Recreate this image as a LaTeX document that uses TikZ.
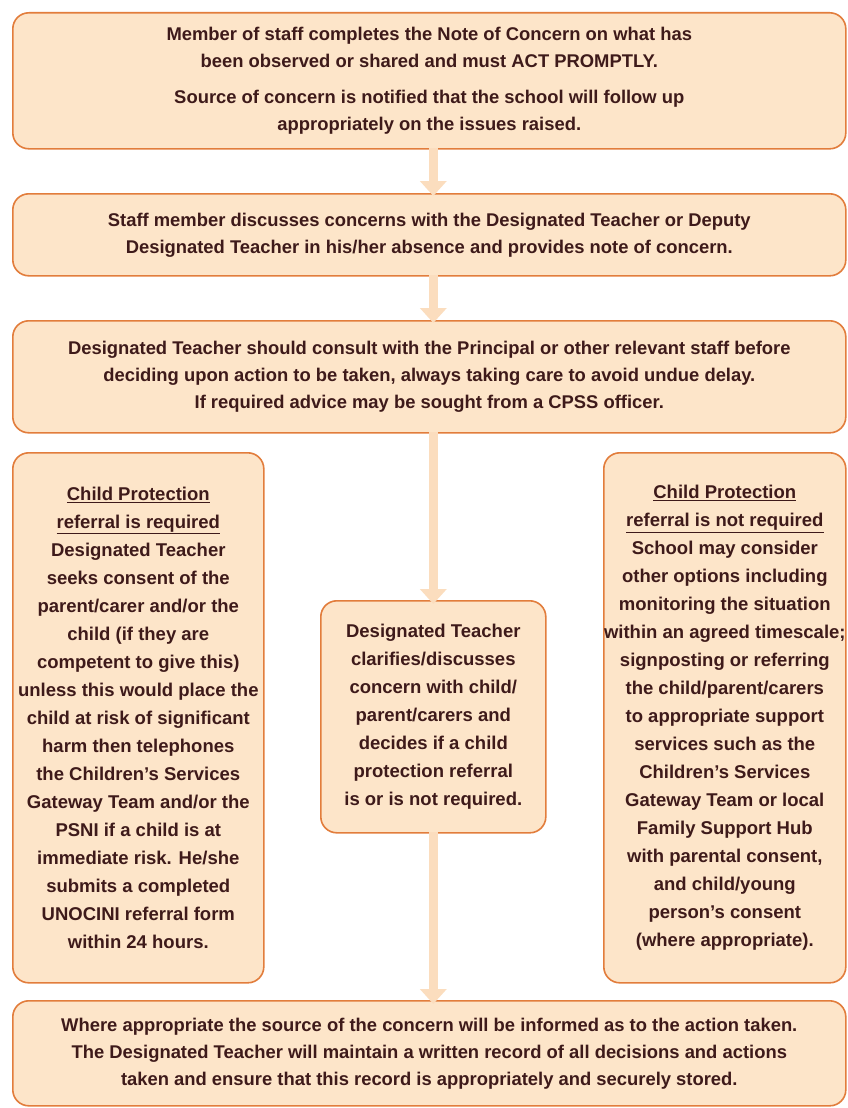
\documentclass[tikz,border=0pt]{standalone}
\usepackage{fontspec}
\setmainfont{Liberation Sans}
\usetikzlibrary{arrows.meta}
\definecolor{boxfill}{HTML}{FDE5C9}
\definecolor{boxline}{HTML}{E27D3C}
\definecolor{txt}{HTML}{3E1A1A}
\definecolor{arr}{HTML}{FBDDBE}
\tikzset{
  flowbox/.style={draw=boxline, line width=1.6pt, fill=boxfill, rounded corners=16pt,
    anchor=north west, inner sep=0pt, align=center, text=txt,
    font=\bfseries\fontsize{18.4}{27}\selectfont},
  sidefont/.style={font=\bfseries\fontsize{18.5}{28}\selectfont},
  flowarrow/.style={draw=arr, line width=9pt, -{Triangle[width=26pt,length=15pt]}},
}
\begin{document}
\begin{tikzpicture}[x=1pt,y=-1pt]
\useasboundingbox (0,0) rectangle (847,1108);
\fill[white] (0,0) rectangle (847,1108);
\node[flowbox, minimum width=833pt, minimum height=136pt] (b1) at (12,12)
 {Member of staff completes the Note of Concern on what has\\
  been observed or shared and must ACT PROMPTLY.\\[9pt]
  Source of concern is notified that the school will follow up\\
  appropriately on the issues raised.};
\node[flowbox, minimum width=833pt, minimum height=82pt] (b2) at (12,193)
 {Staff member discusses concerns with the Designated Teacher or Deputy\\
  Designated Teacher in his/her absence and provides note of concern.};
\node[flowbox, minimum width=833pt, minimum height=112pt] (b3) at (12,320)
 {Designated Teacher should consult with the Principal or other relevant staff before\\
  deciding upon action to be taken, always taking care to avoid undue delay.\\
  If required advice may be sought from a CPSS officer.};
\node[flowbox, sidefont, minimum width=251pt, minimum height=530pt] (left) at (12,452)
 {\underline{Child Protection}\\
  \underline{referral is required}\\
  Designated Teacher\\
  seeks consent of the\\
  parent/carer and/or the\\
  child (if they are\\
  competent to give this)\\
  unless this would place the\\
  child at risk of significant\\
  harm then telephones\\
  the Children's Services\\
  Gateway Team and/or the\\
  PSNI if a child is at\\
  immediate risk. He/she\\
  submits a completed\\
  UNOCINI referral form\\
  within 24 hours.};
\node[flowbox, sidefont, minimum width=242pt, minimum height=530pt] (right) at (603,452)
 {\underline{Child Protection}\\
  \underline{referral is not required}\\
  School may consider\\
  other options including\\
  monitoring the situation\\
  within an agreed timescale;\\
  signposting or referring\\
  the child/parent/carers\\
  to appropriate support\\
  services such as the\\
  Children's Services\\
  Gateway Team or local\\
  Family Support Hub\\
  with parental consent,\\
  and child/young\\
  person's consent\\
  (where appropriate).};
\node[flowbox, sidefont, minimum width=225pt, minimum height=232pt] (mid) at (320,600)
 {Designated Teacher\\
  clarifies/discusses\\
  concern with child/\\
  parent/carers and\\
  decides if a child\\
  protection referral\\
  is or is not required.};
\node[flowbox, minimum width=833pt, minimum height=105pt] (b4) at (12,1000)
 {Where appropriate the source of the concern will be informed as to the action taken.\\
  The Designated Teacher will maintain a written record of all decisions and actions\\
  taken and ensure that this record is appropriately and securely stored.};
\draw[flowarrow] ([yshift=2pt]mid.north |- b1.south) -- ([yshift=-3pt]mid.north |- b2.north);
\draw[flowarrow] ([yshift=2pt]mid.north |- b2.south) -- ([yshift=-3pt]mid.north |- b3.north);
\draw[flowarrow] ([yshift=2pt]mid.north |- b3.south) -- ([yshift=-4pt]mid.north);
\draw[flowarrow] ([yshift=2pt]mid.south) -- ([yshift=-4pt]mid.south |- b4.north);
\end{tikzpicture}
\end{document}
